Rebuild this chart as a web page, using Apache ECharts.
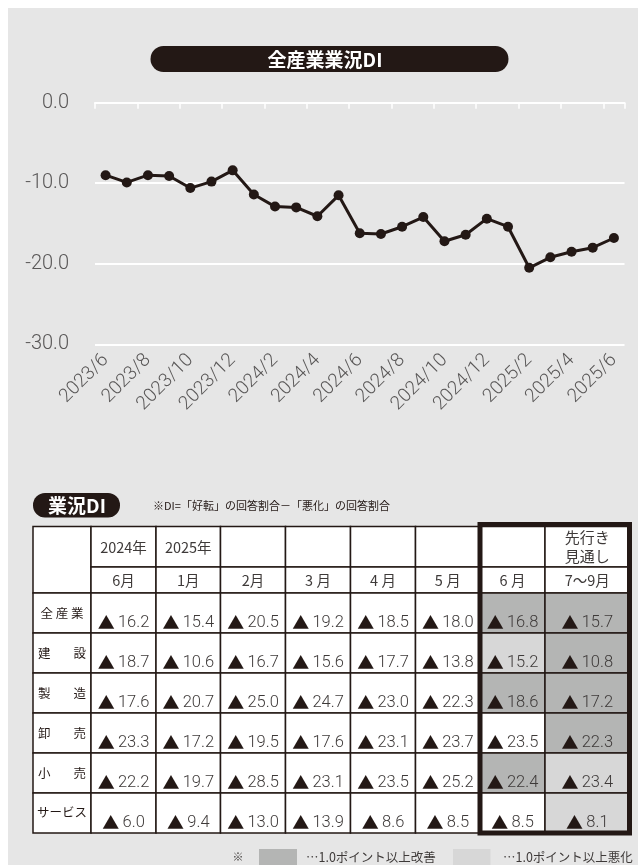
<!DOCTYPE html>
<html>
<head>
<meta charset="utf-8">
<script src="https://cdn.jsdelivr.net/npm/echarts@6/dist/echarts.min.js"></script>
<style>
html,body{margin:0;padding:0;background:#ffffff;}
#chart{width:638px;height:865px;}
</style>
</head>
<body>
<div id="chart"></div>
<script>
// ---- line chart data ----
const months = ['2023/6','2023/7','2023/8','2023/9','2023/10','2023/11','2023/12',
  '2024/1','2024/2','2024/3','2024/4','2024/5','2024/6','2024/7','2024/8','2024/9',
  '2024/10','2024/11','2024/12','2025/1','2025/2','2025/3','2025/4','2025/5','2025/6'];
const diValues = [-9.0,-9.9,-9.0,-9.1,-10.6,-9.8,-8.4,-11.4,-12.9,-13.0,-14.1,-11.5,
  -16.2,-16.3,-15.4,-14.2,-17.2,-16.4,-14.4,-15.4,-20.5,-19.2,-18.5,-18.0,-16.8];
const yTickValues = [0, -10, -20, -30];

// ---- table data ----
const tableYears = ['2024年','2025年','','','','','','先行き\n見通し'];
const tableMonths = ['6月','1月','2月','3 月','4 月','5 月','6 月','7～9月'];
const industries = ['全産業','建設','製造','卸売','小売','サービス'];
const rowAllIndustry = [-16.2,-15.4,-20.5,-19.2,-18.5,-18.0,-16.8,-15.7];
const rowConstruction = [-18.7,-10.6,-16.7,-15.6,-17.7,-13.8,-15.2,-10.8];
const rowManufacturing = [-17.6,-20.7,-25.0,-24.7,-23.0,-22.3,-18.6,-17.2];
const rowWholesale = [-23.3,-17.2,-19.5,-17.6,-23.1,-23.7,-23.5,-22.3];
const rowRetail = [-22.2,-19.7,-28.5,-23.1,-23.5,-25.2,-22.4,-23.4];
const rowService = [-6.0,-9.4,-13.0,-13.9,-8.6,-8.5,-8.5,-8.1];
// shading of the last two columns: 1 = improved (dark), 2 = worsened (light), 0 = none
const shadeJune = [1,2,1,0,1,0];
const shadeOutlook = [1,1,1,1,2,2];
const legendItems = ['…1.0ポイント以上改善','…1.0ポイント以上悪化'];
const titleText = '全産業業況DI';
const tableTitle = '業況DI';
const noteText = '※DI=「好転」の回答割合－「悪化」の回答割合';

const tableRows = [rowAllIndustry,rowConstruction,rowManufacturing,rowWholesale,rowRetail,rowService];

const INK = '#231815';
const GRAY_TXT = '#595757';
const DARK = '#b4b5b4';
const LIGHT = '#d7d7d7';
const JP = '"Noto Sans CJK JP", "Noto Sans", sans-serif';
const NUM = 'Roboto, "Noto Sans", sans-serif';

const chart = echarts.init(document.getElementById('chart'), null, {renderer:'canvas'});

// table geometry
const colX = [33, 91, 156, 220.5, 285.5, 350.5, 415.5, 480, 545, 629.5];
const headTop = 526.5, headMid = 567, headBot = 593, rowH = 40;

const g = [];
g.push({type:'rect', z:-10, shape:{x:8,y:8,width:630,height:857}, style:{fill:'#e6e6e6'}});
// title pill
g.push({type:'rect', shape:{x:150.5,y:46,width:358,height:26,r:13}, style:{fill:INK}});
g.push({type:'text', x:325, y:59.5, style:{text:titleText, fill:'#fff', fontSize:19, fontWeight:'bold', fontFamily:JP, textAlign:'center', textVerticalAlign:'middle'}});
// table title pill
g.push({type:'rect', shape:{x:33,y:493,width:87,height:24.5,r:12}, style:{fill:INK}});
g.push({type:'text', x:77, y:505.5, style:{text:tableTitle, fill:'#fff', fontSize:19, fontWeight:'bold', fontFamily:JP, textAlign:'center', textVerticalAlign:'middle'}});
g.push({type:'text', x:153, y:506, style:{text:noteText, fill:INK, fontSize:11, fontFamily:JP, textAlign:'left', textVerticalAlign:'middle'}});

function cell(x0,x1,y0,y1,fill){
  g.push({type:'rect', shape:{x:x0,y:y0,width:x1-x0,height:y1-y0}, style:{fill:fill, stroke:INK, lineWidth:1.5}});
}
function txt(x,y,s,opt){
  g.push({type:'text', x:x, y:y, style:Object.assign({text:s, fill:INK, fontSize:14, fontFamily:JP, textAlign:'center', textVerticalAlign:'middle'}, opt||{})});
}
// header
cell(colX[0], colX[1], headTop, headBot, '#fff');
for (let c=0;c<8;c++){
  const x0=colX[c+1], x1=colX[c+2];
  cell(x0,x1,headTop,headMid,'#fff');
  cell(x0,x1,headMid,headBot,'#fff');
  const cx=(x0+x1)/2;
  if (tableYears[c]) {
    if (tableYears[c].indexOf('\n')>=0) txt(cx,(headTop+headMid)/2,tableYears[c],{fontSize:15,lineHeight:19,fill:'#3e3a39'});
    else txt(cx,(headTop+headMid)/2+1,tableYears[c],{fontSize:14.5,fill:'#3e3a39'});
  }
  txt(cx,(headMid+headBot)/2,tableMonths[c],{fontSize:14.5,fill:'#3e3a39'});
}
// body
for (let r=0;r<industries.length;r++){
  const y0=headBot+r*rowH, y1=y0+rowH;
  cell(colX[0],colX[1],y0,y1,'#fff');
  const name=industries[r];
  if (name.length===2){
    txt(colX[0]+5,y0+20,name[0],{fontSize:12.5,textAlign:'left'});
    txt(colX[1]-5,y0+20,name[1],{fontSize:12.5,textAlign:'right'});
  } else if (name.length===3){
    txt((colX[0]+colX[1])/2,y0+20,name.split('').join(' '),{fontSize:12.5});
  } else {
    txt((colX[0]+colX[1])/2,y0+19,name,{fontSize:12.5});
  }
  const vals=tableRows[r];
  for (let c=0;c<8;c++){
    let fill='#fff';
    if (c===6) fill = shadeJune[r]===1?DARK:(shadeJune[r]===2?LIGHT:'#fff');
    if (c===7) fill = shadeOutlook[r]===1?DARK:(shadeOutlook[r]===2?LIGHT:'#fff');
    cell(colX[c+1],colX[c+2],y0,y1,fill);
    const v=vals[c];
    g.push({type:'text', x:(colX[c+1]+colX[c+2])/2, y:y0+29.5, style:{
      text:'{t|' + (v<0?'▲':'') + '} {v|' + Math.abs(v).toFixed(1) + '}',
      textAlign:'center', textVerticalAlign:'middle',
      rich:{t:{fontSize:17,fontFamily:JP,fill:INK}, v:{fontSize:16.5,fontFamily:NUM,fontWeight:300,fill:'#3e3a39'}}
    }});
  }
}
// thick frame around last two columns
g.push({type:'rect', shape:{x:480,y:524.5,width:149.5,height:308.5}, style:{fill:'none', stroke:INK, lineWidth:5}});
// legend
txt(238,857,'※',{fontSize:11,fill:'#3e3a39'});
g.push({type:'rect', shape:{x:259,y:849,width:38,height:16}, style:{fill:DARK}});
txt(306,857,legendItems[0],{fontSize:12.5,textAlign:'left',fill:'#3e3a39'});
g.push({type:'rect', shape:{x:453,y:849,width:37.5,height:16}, style:{fill:LIGHT}});
txt(503,857,legendItems[1],{fontSize:12.5,textAlign:'left',fill:'#3e3a39'});

const option = {
  backgroundColor:'#ffffff',
  animation:false,
  grid:{left:95, right:13.5, top:102.7, height:241.6},
  xAxis:[
    {type:'category', data:months, position:'bottom', boundaryGap:true,
     axisLine:{show:false}, axisTick:{show:false},
     axisLabel:{interval:1, rotate:45, fontSize:19, fontFamily:NUM, fontWeight:300, color:GRAY_TXT, margin:13}},
    {type:'category', data:months, position:'top', boundaryGap:true,
     axisLine:{show:true, onZero:false, lineStyle:{color:'#ffffff', width:2}},
     axisTick:{show:true, inside:true, interval:1, length:6, lineStyle:{color:'#ffffff', width:1.5}},
     axisLabel:{show:false}}
  ],
  yAxis:{type:'value', min:-30, max:0, interval:10,
    axisLine:{show:false}, axisTick:{show:false},
    splitLine:{show:true, lineStyle:{color:'#ffffff', width:2}},
    axisLabel:{fontSize:20, fontFamily:NUM, fontWeight:300, color:GRAY_TXT, margin:26,
      formatter:function(v){ return yTickValues.indexOf(v)>=0 ? v.toFixed(1) : ''; }}},
  series:[{type:'line', xAxisIndex:0, data:diValues, symbol:'circle', symbolSize:10,
    lineStyle:{color:INK, width:3}, itemStyle:{color:INK}, z:5}],
  graphic:g
};
chart.setOption(option);
</script>
</body>
</html>
